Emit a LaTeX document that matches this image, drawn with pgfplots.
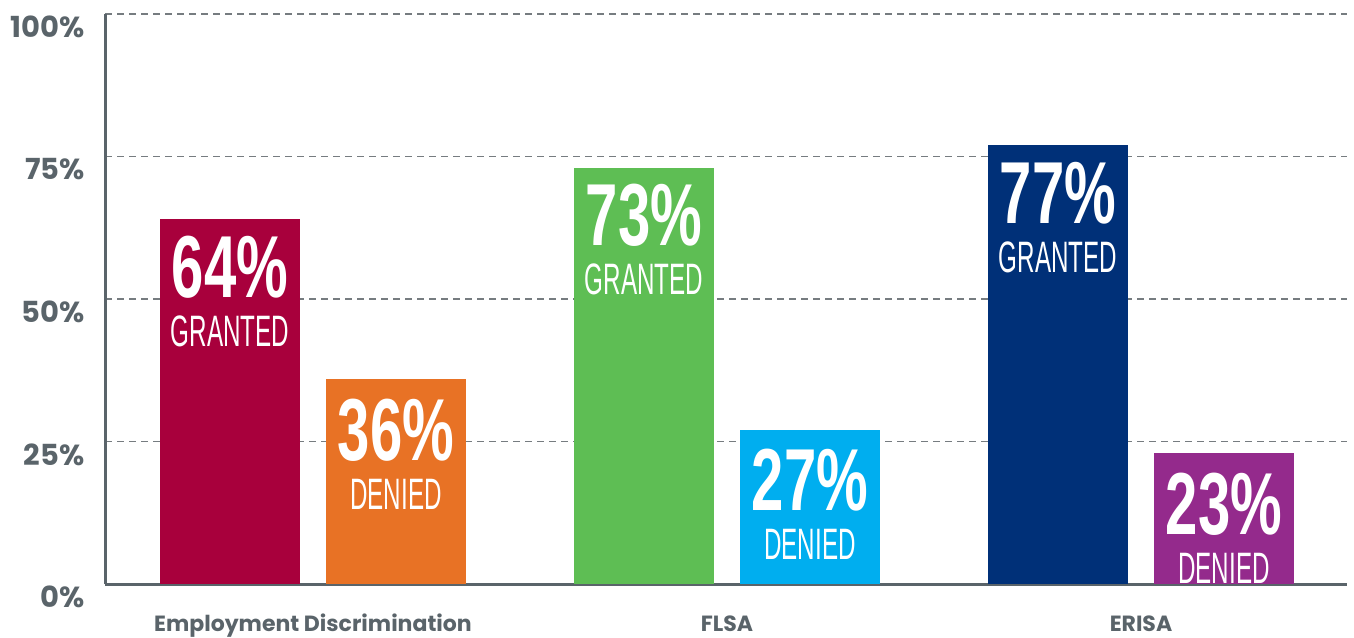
\documentclass[border=0pt]{standalone}
\usepackage{fontspec}
\setmainfont{Poppins}
\newfontfamily\numfont[FakeStretch=0.66]{Liberation Sans}
\newfontfamily\wordfont[FakeStretch=0.55]{Liberation Sans}
\usepackage{pgfplots}
\pgfplotsset{compat=1.18}
\definecolor{crimson}{RGB}{168,0,60}
\definecolor{orng}{RGB}{232,114,37}
\definecolor{grn}{RGB}{94,190,84}
\definecolor{sky}{RGB}{0,174,239}
\definecolor{navy}{RGB}{0,48,120}
\definecolor{purp}{RGB}{148,42,140}
\definecolor{axisgray}{RGB}{90,100,106}
\definecolor{gridgray}{RGB}{118,124,128}

% big number on top, word below, both white inside the bar
% args: number, word, drop below bar top, bar shift
\pgfplotsset{
  inbar/.style n args={4}{
    bar shift=#4,
    nodes near coords={{\numfont\bfseries\fontsize{44}{24.5}\selectfont #1}\\{\wordfont\fontsize{22}{24.5}\selectfont #2}},
    every node near coord/.append style={anchor=north, inner sep=0pt, text=white,
      align=center, font=\fontsize{22}{24.5}\selectfont, yshift=#3, xshift=#4}},
  bars/.style={ybar, bar width=70pt, draw=none, fill=#1},
}

\begin{document}
\begin{tikzpicture}
\path[use as bounding box] (-52.5pt,-26.5pt) rectangle (624.5pt,292pt);
\begin{axis}[
  scale only axis, width=621pt, height=285pt,
  xmin=-0.5024, xmax=2.4976, ymin=0, ymax=100,
  axis x line*=bottom, axis y line*=left,
  axis line style={axisgray, line width=1.5pt},
  xtick={0,1,2},
  xticklabels={Employment Discrimination, FLSA, ERISA},
  ytick={0,25,50,75,100},
  yticklabels={0\%,25\%,50\%,75\%,100\%},
  major tick length=0pt,
  ymajorgrids,
  grid style={gridgray, line width=0.75pt, dash pattern=on 3.5pt off 2.5pt},
  yticklabel style={anchor=east, inner sep=0pt, xshift=-10pt, yshift=-6.5pt,
    font=\bfseries\fontsize{14.5}{14.5}\selectfont, text=axisgray},
  xticklabel style={anchor=base, inner sep=0pt, yshift=-23.5pt,
    font=\bfseries\fontsize{11}{11}\selectfont, text=axisgray},
  clip=false,
]
% Employment Discrimination
\addplot[bars=crimson, inbar={64\%}{GRANTED}{-8pt}{-41.5pt}]
  coordinates {(0,64)};
\addplot[bars=orng, inbar={36\%}{DENIED}{-10pt}{41.5pt}]
  coordinates {(0,36)};
% FLSA
\addplot[bars=grn, inbar={73\%}{GRANTED}{-8pt}{-41.5pt}]
  coordinates {(1,73)};
\addplot[bars=sky, inbar={27\%}{DENIED}{-9.5pt}{41.5pt}]
  coordinates {(1,27)};
% ERISA
\addplot[bars=navy, inbar={77\%}{GRANTED}{-8.5pt}{-41.5pt}]
  coordinates {(2,77)};
\addplot[bars=purp, inbar={23\%}{DENIED}{-10pt}{41.5pt}]
  coordinates {(2,23)};
\end{axis}
\end{tikzpicture}
\end{document}
